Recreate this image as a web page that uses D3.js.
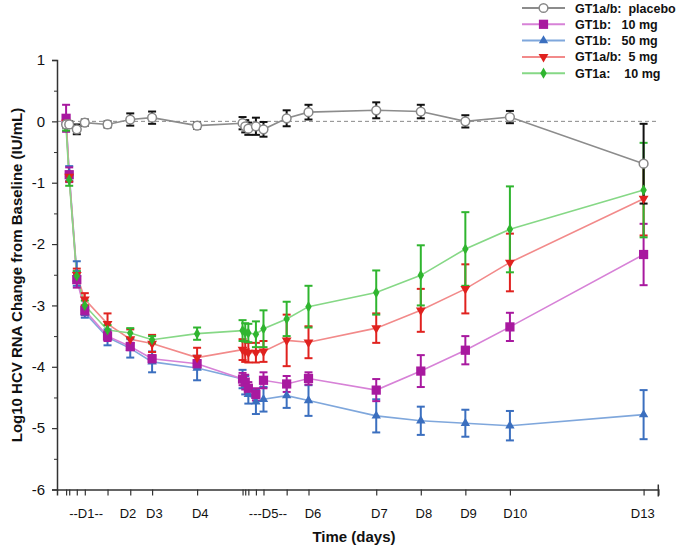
<!DOCTYPE html>
<html><head><meta charset="utf-8">
<script src="https://cdn.jsdelivr.net/npm/d3@7"></script>
<style>body{margin:0;background:#fff}svg{display:block}</style>
</head><body>
<script>
const times = [0.04, 0.11, 0.28, 0.46, 0.97, 1.48, 1.97, 2.98, 4.0, 4.06, 4.13, 4.3, 4.47, 4.99, 5.48, 7, 8, 9, 10, 13];
const placebo    = [-0.05, -0.05, -0.13, -0.02, -0.05, 0.03, 0.06, -0.07, -0.03, -0.08, -0.12, -0.08, -0.13, 0.05, 0.15, 0.18, 0.16, 0.0, 0.07, -0.69];
const placeboErr = [0.05, 0.05, 0.08, 0.05, 0.05, 0.1, 0.1, 0.05, 0.1, 0.1, 0.1, 0.14, 0.12, 0.13, 0.12, 0.13, 0.11, 0.1, 0.1, 0.65];
const gt1b10     = [0.05, -0.87, -2.58, -3.08, -3.5, -3.67, -3.87, -3.95, -4.2, -4.25, -4.35, -4.45, -4.22, -4.28, -4.19, -4.38, -4.07, -3.73, -3.35, -2.17];
const gt1b10Err  = [0.22, 0.12, 0.13, 0.08, 0.08, 0.06, 0.06, 0.06, 0.1, 0.12, 0.1, 0.1, 0.13, 0.13, 0.1, 0.18, 0.26, 0.23, 0.23, 0.5];
const gt1b50     = [0.0, -0.85, -2.48, -3.12, -3.52, -3.7, -3.92, -4.02, -4.2, -4.3, -4.45, -4.57, -4.53, -4.47, -4.55, -4.8, -4.88, -4.92, -4.96, -4.78];
const gt1b50Err  = [0.05, 0.12, 0.2, 0.08, 0.13, 0.15, 0.17, 0.2, 0.15, 0.15, 0.15, 0.2, 0.2, 0.2, 0.25, 0.27, 0.23, 0.22, 0.24, 0.4];
const gt1ab5     = [-0.02, -0.9, -2.5, -2.9, -3.3, -3.55, -3.62, -3.85, -3.72, -3.75, -3.77, -3.77, -3.75, -3.57, -3.6, -3.37, -3.08, -2.73, -2.3, -1.26];
const gt1ab5Err  = [0.05, 0.08, 0.1, 0.1, 0.17, 0.16, 0.14, 0.16, 0.17, 0.17, 0.16, 0.16, 0.17, 0.42, 0.26, 0.24, 0.35, 0.4, 0.47, 0.6];
const gt1a10     = [-0.1, -0.95, -2.52, -3.0, -3.4, -3.45, -3.56, -3.46, -3.41, -3.44, -3.45, -3.47, -3.38, -3.22, -3.02, -2.79, -2.51, -2.08, -1.76, -1.12];
const gt1a10Err  = [0.05, 0.1, 0.08, 0.08, 0.08, 0.08, 0.06, 0.1, 0.17, 0.15, 0.15, 0.21, 0.3, 0.28, 0.34, 0.36, 0.49, 0.6, 0.7, 0.77];

const seriesNames = ["GT1a/b:  placebo", "GT1b:   10 mg", "GT1b:   50 mg", "GT1a/b:  5 mg", "GT1a:    10 mg"];
const tickTimes = [0.04, 0.11, 0.28, 0.46, 0.97, 1.48, 1.97, 2.98, 4.0, 4.06, 4.13, 4.3, 4.47, 4.99, 5.48, 7, 8, 9, 10, 13];
const tickLabels = ["--D1--", "D2", "D3", "D4", "---D5--", "D6", "D7", "D8", "D9", "D10", "D13"];
const tickLabelTimes = [0.49, 1.43, 2.02, 3.05, 4.57, 5.58, 7.07, 8.07, 9.07, 10.12, 12.98];
const yTicks = [1, 0, -1, -2, -3, -4, -5, -6];

const W = 685, H = 548;
const svg = d3.select("body").append("svg").attr("width", W).attr("height", H);
const x = d3.scaleLinear().domain([-0.164, 13.33]).range([57, 658.3]);
const y = d3.scaleLinear().domain([-6, 1]).range([489.5, 60]);

// zero reference line
svg.append("line").attr("x1", x(-0.164)).attr("x2", x(13.33)).attr("y1", y(0)).attr("y2", y(0))
  .attr("stroke", "#888").attr("stroke-width", 1).attr("stroke-dasharray", "4,3");

// axes
const yAxis = d3.axisLeft(y).tickValues(yTicks).tickSize(5).tickPadding(7).tickFormat(d => String(d));
const gy = svg.append("g").attr("transform", `translate(${x(-0.164)},0)`).call(yAxis);
gy.select(".domain").attr("stroke", "#333").attr("stroke-width", 1.5);
gy.selectAll(".tick line").attr("stroke", "#333").attr("stroke-width", 1.2);
gy.selectAll("text").attr("font-family", "Liberation Sans, Arial, sans-serif").attr("font-size", 15).attr("fill", "#111");
const yMinor = d3.axisLeft(y).tickValues(d3.range(-5.5, 1, 1)).tickSize(3).tickFormat("");
const gym = svg.append("g").attr("transform", `translate(${x(-0.164)},0)`).call(yMinor);
gym.select(".domain").remove();
gym.selectAll(".tick line").attr("stroke", "#333");

const xAxis = d3.axisBottom(x).tickValues(tickTimes).tickSize(6).tickFormat("");
const gx = svg.append("g").attr("transform", `translate(0,${y(-6)})`).call(xAxis);
gx.select(".domain").attr("stroke", "#333").attr("stroke-width", 1.5);
gx.selectAll(".tick line").attr("stroke", "#333").attr("stroke-width", 1.2);
svg.append("line").attr("x1", x(13.33)).attr("x2", x(13.33)).attr("y1", y(-6) - 5).attr("y2", y(-6) + 7)
  .attr("stroke", "#333").attr("stroke-width", 1.5);

svg.append("g").selectAll("text").data(tickLabels).join("text")
  .attr("x", (d, i) => x(tickLabelTimes[i])).attr("y", y(-6) + 28)
  .attr("text-anchor", "middle").attr("font-family", "Liberation Sans, Arial, sans-serif")
  .attr("font-size", 13).attr("fill", "#111").style("white-space", "pre").text(d => d);

svg.append("text").attr("x", 354).attr("y", 542).attr("text-anchor", "middle")
  .attr("font-family", "Liberation Sans, Arial, sans-serif").attr("font-weight", "bold")
  .attr("font-size", 15).attr("fill", "#111").text("Time (days)");
svg.append("text").attr("transform", "translate(22,275) rotate(-90)").attr("text-anchor", "middle")
  .attr("font-family", "Liberation Sans, Arial, sans-serif").attr("font-weight", "bold")
  .attr("font-size", 15).attr("fill", "#111").text("Log10 HCV RNA Change from Baseline (IU/mL)");

// series definitions
const series = [
  {name: seriesNames[2], vals: gt1b50, err: gt1b50Err, line: "#7fa7dc", bar: "#3b6fbf", mark: "#3b6fbf", sym: d3.symbolTriangle, size: 38, rot: 0},
  {name: seriesNames[1], vals: gt1b10, err: gt1b10Err, line: "#d782d7", bar: "#a8199f", mark: "#a8199f", sym: d3.symbolSquare, size: 85, rot: 0},
  {name: seriesNames[3], vals: gt1ab5, err: gt1ab5Err, line: "#f28a8a", bar: "#e0221f", mark: "#e0221f", sym: d3.symbolTriangle, size: 42, rot: 180},
  {name: seriesNames[4], vals: gt1a10, err: gt1a10Err, line: "#86d886", bar: "#2fb52f", mark: "#2fb52f", sym: d3.symbolDiamond, size: 36, rot: 0},
  {name: seriesNames[0], vals: placebo, err: placeboErr, line: "#8c8c8c", bar: "#111", mark: "#fff", stroke: "#888", sym: d3.symbolCircle, size: 60, rot: 0},
];

const lineGen = d3.line().x(d => x(d.t)).y(d => y(d.v));
series.forEach(s => {
  const pts = times.map((t, i) => ({t, v: s.vals[i], e: s.err[i]}));
  svg.append("path").datum(pts).attr("d", lineGen).attr("fill", "none")
    .attr("stroke", s.line).attr("stroke-width", 1.6);
});
series.forEach(s => {
  const pts = times.map((t, i) => ({t, v: s.vals[i], e: s.err[i]}));
  const g = svg.append("g").attr("stroke", s.bar).attr("stroke-width", 2);
  g.selectAll("line.v").data(pts).join("line").attr("class", "v")
    .attr("x1", d => x(d.t)).attr("x2", d => x(d.t)).attr("y1", d => y(d.v + d.e)).attr("y2", d => y(d.v - d.e));
  g.selectAll("line.t").data(pts).join("line").attr("class", "t")
    .attr("x1", d => x(d.t) - 4).attr("x2", d => x(d.t) + 4).attr("y1", d => y(d.v + d.e)).attr("y2", d => y(d.v + d.e));
  g.selectAll("line.b").data(pts).join("line").attr("class", "b")
    .attr("x1", d => x(d.t) - 4).attr("x2", d => x(d.t) + 4).attr("y1", d => y(d.v - d.e)).attr("y2", d => y(d.v - d.e));
});
series.forEach(s => {
  const pts = times.map((t, i) => ({t, v: s.vals[i]}));
  svg.append("g").selectAll("path").data(pts).join("path")
    .attr("d", d3.symbol().type(s.sym).size(s.size))
    .attr("transform", d => `translate(${x(d.t)},${y(d.v)}) rotate(${s.rot})`)
    .attr("fill", s.mark).attr("stroke", s.stroke || "none").attr("stroke-width", 1.5);
});

// legend
const legOrder = [4, 1, 0, 2, 3];
const lg = svg.append("g");
legOrder.forEach((si, r) => {
  const s = series[si];
  const yy = 8 + r * 16.3;
  lg.append("line").attr("x1", 522).attr("x2", 565).attr("y1", yy).attr("y2", yy)
    .attr("stroke", s.line).attr("stroke-width", 2);
  lg.append("path").attr("d", d3.symbol().type(s.sym).size(s.size))
    .attr("transform", `translate(543.5,${yy}) rotate(${s.rot})`)
    .attr("fill", s.mark).attr("stroke", s.stroke || "none").attr("stroke-width", 1.5);
  lg.append("text").attr("x", 575).attr("y", yy + 4.5)
    .attr("font-family", "Liberation Sans, Arial, sans-serif").attr("font-weight", "bold")
    .attr("font-size", 12.5).attr("fill", "#111").style("white-space", "pre").text(s.name);
});
</script>
</body></html>
